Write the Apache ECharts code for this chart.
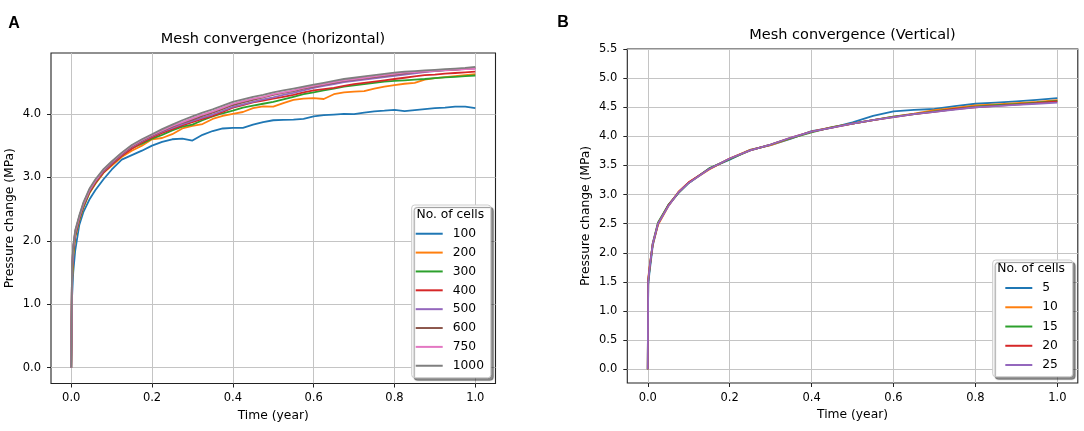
<!DOCTYPE html>
<html><head><meta charset="utf-8">
<script src="https://cdn.jsdelivr.net/npm/echarts@6/dist/echarts.min.js"></script>
<style>html,body{margin:0;padding:0;background:#fff}#c{width:1084px;height:431px}</style>
</head><body><div id="c"></div>
<script>
// ---------- Panel A (horizontal) ----------
const timeA = [0, 0.002, 0.005, 0.01, 0.02, 0.03, 0.045, 0.06, 0.08, 0.1, 0.125, 0.15, 0.175, 0.2, 0.225, 0.25, 0.275, 0.3, 0.325, 0.35, 0.375, 0.4, 0.425, 0.45, 0.475, 0.5, 0.525, 0.55, 0.575, 0.6, 0.625, 0.65, 0.675, 0.7, 0.725, 0.75, 0.775, 0.8, 0.825, 0.85, 0.875, 0.9, 0.925, 0.95, 0.975, 1.0];
const cells100 = [0,1.1,1.5,1.85,2.25,2.45,2.65,2.8,2.97,3.12, 3.28,3.35,3.42,3.5,3.56,3.6,3.61,3.58,3.67,3.73, 3.77,3.78,3.78,3.83,3.87,3.9,3.905,3.91,3.92,3.96, 3.98,3.99,4.0,3.995,4.02,4.04,4.05,4.065,4.045,4.06, 4.075,4.09,4.1,4.115,4.115,4.09];
const cells200 = [0,1.3,1.75,2.05,2.32,2.52,2.75,2.9,3.07,3.18, 3.32,3.42,3.5,3.6,3.62,3.68,3.77,3.81,3.84,3.92, 3.97,4.0,4.03,4.09,4.12,4.115,4.17,4.22,4.24,4.25, 4.235,4.31,4.34,4.35,4.36,4.4,4.43,4.455,4.475,4.49, 4.54,4.565,4.58,4.595,4.61,4.625];
const cells300 = [0,1.45,1.8,2.08,2.33,2.53,2.76,2.91,3.08,3.2, 3.34,3.46,3.53,3.61,3.67,3.74,3.8,3.83,3.9,3.96, 4.01,4.05,4.1,4.13,4.16,4.19,4.23,4.27,4.31,4.34, 4.37,4.4,4.43,4.45,4.47,4.49,4.51,4.52,4.53,4.54, 4.55,4.565,4.575,4.585,4.595,4.605];
const cells400 = [0,1.5,1.85,2.1,2.35,2.55,2.77,2.92,3.08,3.2, 3.34,3.45,3.55,3.63,3.7,3.76,3.82,3.87,3.92,3.97, 4.03,4.1,4.14,4.18,4.21,4.24,4.27,4.3,4.34,4.37, 4.39,4.41,4.44,4.47,4.49,4.51,4.53,4.55,4.57,4.59, 4.61,4.62,4.635,4.645,4.655,4.665];
const cells500 = [0,1.55,1.88,2.12,2.37,2.57,2.79,2.94,3.1,3.22, 3.36,3.48,3.57,3.65,3.72,3.78,3.84,3.89,3.94,3.99, 4.05,4.11,4.15,4.19,4.23,4.26,4.3,4.33,4.37,4.41, 4.44,4.47,4.5,4.52,4.54,4.56,4.58,4.6,4.62,4.64, 4.66,4.675,4.685,4.695,4.705,4.715];
const cells600 = [0,1.55,1.9,2.14,2.38,2.58,2.8,2.95,3.11,3.23, 3.37,3.49,3.58,3.66,3.73,3.8,3.86,3.91,3.97,4.02, 4.08,4.14,4.18,4.22,4.26,4.3,4.33,4.36,4.4,4.43, 4.46,4.49,4.52,4.54,4.56,4.58,4.6,4.62,4.64,4.66, 4.67,4.68,4.69,4.7,4.71,4.72];
const cells750 = [0,1.55,1.9,2.15,2.38,2.58,2.8,2.95,3.12,3.24, 3.38,3.5,3.59,3.67,3.74,3.81,3.87,3.93,3.99,4.04, 4.1,4.16,4.2,4.24,4.27,4.31,4.34,4.37,4.41,4.44, 4.47,4.5,4.53,4.55,4.57,4.59,4.61,4.63,4.65,4.66, 4.67,4.68,4.69,4.7,4.705,4.71];
const cells1000 = [0,1.6,1.92,2.17,2.4,2.6,2.82,2.97,3.13,3.25, 3.39,3.51,3.6,3.68,3.76,3.83,3.9,3.96,4.02,4.07, 4.13,4.19,4.23,4.27,4.3,4.34,4.37,4.4,4.43,4.46, 4.49,4.52,4.55,4.57,4.59,4.61,4.63,4.65,4.665,4.675, 4.685,4.695,4.705,4.715,4.725,4.74];
const namesA = ['100','200','300','400','500','600','750','1000'];
const valuesA = [cells100, cells200, cells300, cells400, cells500, cells600, cells750, cells1000];

// ---------- Panel B (vertical) ----------
const timeB = [0, 0.001, 0.004, 0.012, 0.025, 0.05, 0.075, 0.1, 0.15, 0.2, 0.25, 0.3, 0.35, 0.4, 0.45, 0.5, 0.55, 0.6, 0.65, 0.7, 0.75, 0.8, 0.85, 0.9, 0.95, 1.0];
const cells5  = [0,1.45,1.65,2.12,2.5,2.82,3.03,3.2,3.45,3.6, 3.77,3.85,3.96,4.09,4.15,4.24,4.35,4.43,4.455,4.47, 4.52,4.56,4.58,4.6,4.625,4.655];
const cells10 = [0,1.55,1.75,2.14,2.48,2.8,3.05,3.21,3.43,3.62, 3.77,3.85,3.97,4.08,4.16,4.22,4.28,4.34,4.39,4.45, 4.49,4.53,4.55,4.57,4.59,4.62];
const cells15 = [0,1.5,1.7,2.16,2.52,2.82,3.03,3.2,3.45,3.61, 3.76,3.86,3.97,4.07,4.16,4.22,4.28,4.34,4.38,4.43, 4.47,4.51,4.535,4.555,4.58,4.61];
const cells20 = [0,1.52,1.72,2.15,2.5,2.81,3.04,3.21,3.44,3.62, 3.76,3.86,3.98,4.08,4.15,4.22,4.28,4.33,4.38,4.42, 4.47,4.5,4.525,4.545,4.57,4.6];
const cells25 = [0,1.5,1.72,2.15,2.5,2.8,3.04,3.2,3.44,3.62, 3.76,3.86,3.98,4.08,4.15,4.22,4.28,4.33,4.38,4.42, 4.46,4.5,4.52,4.54,4.56,4.58];
const namesB = ['5','10','15','20','25'];
const valuesB = [cells5, cells10, cells15, cells20, cells25];

// ---------- Ticks ----------
const xTicks = [0, 0.2, 0.4, 0.6, 0.8, 1.0];
const yTicksA = [0, 1, 2, 3, 4];
const yTicksB = [0, 0.5, 1, 1.5, 2, 2.5, 3, 3.5, 4, 4.5, 5, 5.5];

const colors = ['#1f77b4','#ff7f0e','#2ca02c','#d62728','#9467bd','#8c564b','#e377c2','#7f7f7f'];
const FONT = 'DejaVu Sans';

function xAxis(gridIndex) {
  return {
    type: 'value', gridIndex, min: -0.05, max: 1.05, position: 'bottom',
    name: 'Time (year)', nameLocation: 'middle', nameGap: 26,
    nameTextStyle: { fontFamily: FONT, fontSize: 12.3, color: '#000' },
    axisLine: { show: false, onZero: false },
    axisTick: { show: true, length: 4, lineStyle: { color: '#222', width: 1 }, customValues: xTicks },
    axisLabel: { customValues: xTicks, margin: 9, fontFamily: FONT, fontSize: 11.5, color: '#000', formatter: v => v.toFixed(1) },
    splitLine: { show: true, lineStyle: { color: '#c4c4c4', width: 1 } }
  };
}
function yAxis(gridIndex, min, max, ticks) {
  return {
    type: 'value', gridIndex, min, max, position: 'left',
    name: 'Pressure change (MPa)', nameLocation: 'middle', nameGap: 35, nameRotate: 90,
    nameTextStyle: { fontFamily: FONT, fontSize: 12.3, color: '#000' },
    axisLine: { show: false, onZero: false },
    axisTick: { show: true, length: 4, lineStyle: { color: '#222', width: 1 }, customValues: ticks },
    axisLabel: { customValues: ticks, margin: 10, fontFamily: FONT, fontSize: 11.5, color: '#000', formatter: v => v.toFixed(1) },
    splitLine: { show: true, lineStyle: { color: '#c4c4c4', width: 1 } }
  };
}

const series = [];
valuesA.forEach((vals, i) => series.push({
  type: 'line', name: namesA[i], xAxisIndex: 0, yAxisIndex: 0,
  data: timeA.map((t, k) => [t, vals[k]]), showSymbol: false, symbol: 'none',
  lineStyle: { width: 1.8, color: colors[i], join: 'round' }, itemStyle: { color: colors[i] }, animation: false
}));
valuesB.forEach((vals, i) => series.push({
  type: 'line', name: namesB[i], xAxisIndex: 1, yAxisIndex: 1,
  data: timeB.map((t, k) => [t, vals[k]]), showSymbol: false, symbol: 'none',
  lineStyle: { width: 1.8, color: colors[i], join: 'round' }, itemStyle: { color: colors[i] }, animation: false
}));

function legend(data, left, top, padding, pitch) {
  return {
    data, orient: 'vertical', left, top, padding, itemWidth: 27, itemHeight: 2, itemGap: 0,
    icon: 'rect', selectedMode: false,
    textStyle: { fontFamily: FONT, fontSize: 12.3, color: '#000', lineHeight: pitch, padding: [0, 0, 0, 5] },
    backgroundColor: '#fff', borderColor: '#cccccc', borderWidth: 1, borderRadius: 3,
    shadowColor: 'rgba(0,0,0,0.45)', shadowBlur: 1, shadowOffsetX: 2.5, shadowOffsetY: 2.5
  };
}

const txt = (text, x, y, size, align, weight, family) => ({
  type: 'text', x, y, z: 100,
  style: { text, fontSize: size, fontFamily: family || FONT, fontWeight: weight || 'normal', fill: '#000', align, verticalAlign: 'middle' }
});

const chart = echarts.init(document.getElementById('c'), null, { renderer: 'canvas' });
chart.setOption({
  animation: false,
  backgroundColor: '#fff',
  grid: [
    { left: 51, top: 53, width: 444.5, height: 330.5, show: true, borderColor: '#222', borderWidth: 1.1, backgroundColor: 'transparent' },
    { left: 627.3, top: 49, width: 450.5, height: 334, show: true, borderColor: '#222', borderWidth: 1.1, backgroundColor: 'transparent' }
  ],
  xAxis: [xAxis(0), xAxis(1)],
  yAxis: [yAxis(0, -0.25, 4.96, yTicksA), yAxis(1, -0.235, 5.5, yTicksB)],
  legend: [
    legend(namesA, 411.7, 205, [19.3, 6.8, 2.6, 4], 18.86),
    legend(namesB, 992.7, 260, [18.4, 14.7, 2.1, 12.6], 19.25)
  ],
  graphic: [
    txt('A', 14, 24, 16, 'center', 'bold', 'Liberation Sans'),
    txt('B', 563, 23, 16, 'center', 'bold', 'Liberation Sans'),
    txt('Mesh convergence (horizontal)', 273, 39.5, 14.5, 'center'),
    txt('Mesh convergence (Vertical)', 852.5, 35, 14.5, 'center'),
    txt('No. of cells', 416.5, 215, 12.3, 'left'),
    txt('No. of cells', 997.3, 269.3, 12.3, 'left')
  ],
  series
});
</script>
</body></html>
